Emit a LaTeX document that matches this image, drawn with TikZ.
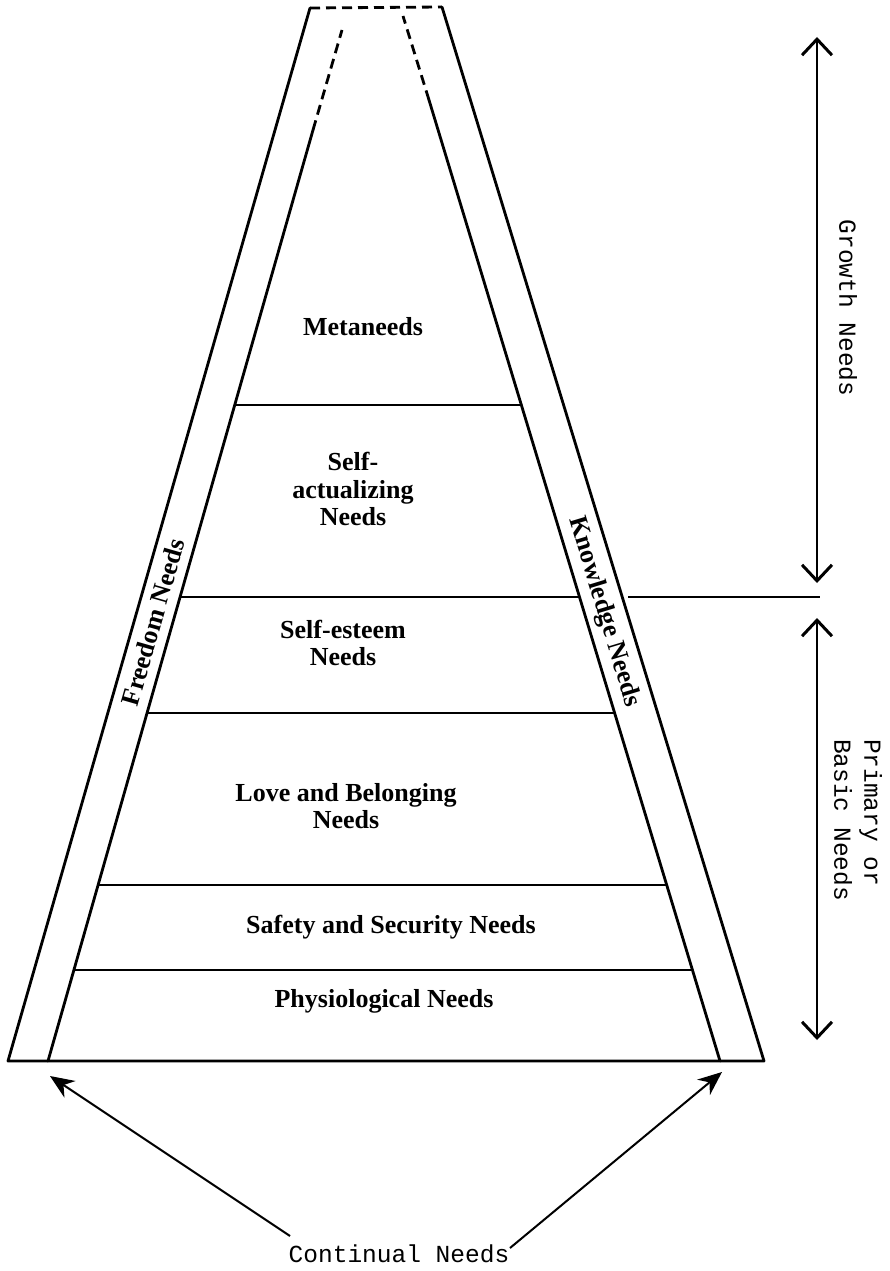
\documentclass[tikz,border=0pt]{standalone}
\usepackage{fontspec}
\setmainfont{Liberation Serif}
\newfontfamily\monofont{Liberation Mono}
\usetikzlibrary{arrows.meta}
\begin{document}
\begin{tikzpicture}[x=1pt,y=-1pt,
  frameline/.style={line width=2.8pt,line join=round,line cap=round},
  tierline/.style={line width=2.4pt},
  dashline/.style={line width=2.8pt,dash pattern=on 10pt off 6pt},
  lab/.style={font=\fontsize{26}{27.5}\selectfont\bfseries,align=center,inner sep=0pt},
  mono/.style={font=\fontsize{24.5}{30}\selectfont\monofont,inner sep=0pt},
  spanarrow/.style={line width=2pt,{Straight Barb[length=16pt,width=30pt,line width=3pt]}-{Straight Barb[length=16pt,width=30pt,line width=3pt]}},
  contarrow/.style={line width=2pt,-{Stealth[length=24pt,width=20pt]}}]
\useasboundingbox (0,0) rectangle (890,1271);
% key points
\coordinate (OLb) at (8,1061);
\coordinate (OLt) at (310,8);
\coordinate (ORt) at (442,7);
\coordinate (ORb) at (764,1061);
\coordinate (ILb) at (48,1061);
\coordinate (ILs) at (313,130);
\coordinate (ILt) at (342,30);
\coordinate (IRb) at (720,1061);
\coordinate (IRs) at (429,100);
\coordinate (IRt) at (403,16);
% outer frame
\draw[frameline] (OLt) -- (OLb) -- (ORb) -- (ORt);
\draw[dashline] (OLt) -- (ORt);
% inner lines
\draw[frameline] (ILb) -- (ILs);
\draw[dashline] (ILs) -- (ILt);
\draw[frameline] (IRb) -- (IRs);
\draw[dashline] (IRs) -- (IRt);
% tier lines
\draw[tierline] (235.3,405) -- (521.2,405);
\draw[tierline] (180.5,597) -- (579.4,597);
\draw[tierline] (147.4,713) -- (614.6,713);
\draw[tierline] (98.2,885) -- (666.7,885);
\draw[tierline] (74,970) -- (692.4,970);
\draw[tierline] (628,597) -- (820,597);
% tier labels
\node[lab,anchor=base] (meta) at (363,335) {Metaneeds};
\node[lab] (selfact) at (353,489) {Self-\\actualizing\\Needs};
\node[lab] (esteem) at (343,643) {Self-esteem\\Needs};
\node[lab] (love) at (346,806) {Love and Belonging\\Needs};
\node[lab,anchor=base] (safety) at (391,933) {Safety and Security Needs};
\node[lab,anchor=base] (phys) at (384,1007) {Physiological Needs};
% band labels
\node[lab,rotate=74] (freedom) at (153,622) {Freedom Needs};
\node[lab,rotate=-73.1] (knowledge) at (604,612) {Knowledge Needs};
% right side spans
\coordinate (g1) at (817,37);
\coordinate (g2) at (817,583);
\coordinate (p1) at (817,618);
\coordinate (p2) at (817,1040);
\draw[spanarrow] (g1) -- (g2);
\draw[spanarrow] (p1) -- (p2);
\node[mono,rotate=-90] (growth) at (848,308) {Growth Needs};
\node[mono,rotate=-90,align=left] (primary) at (858,820) {Primary or\\Basic Needs};
% continual needs
\node[mono,anchor=base] (cont) at (399,1262) {Continual Needs};
\coordinate (cL) at (290,1236);
\coordinate (cR) at (510,1248);
\coordinate (tL) at (50,1076);
\coordinate (tR) at (722,1072);
\draw[contarrow] (cL) -- (tL);
\draw[contarrow] (cR) -- (tR);
\end{tikzpicture}
\end{document}
